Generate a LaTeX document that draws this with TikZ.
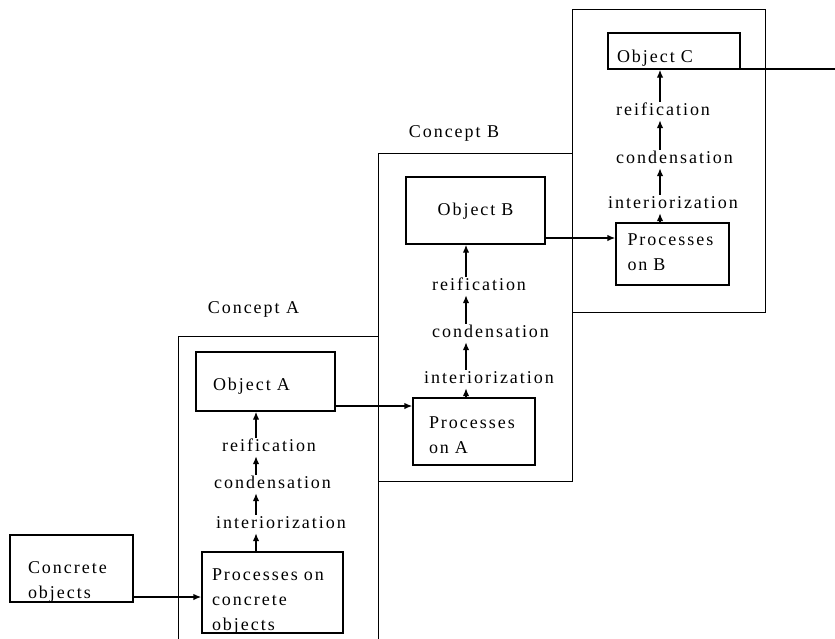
\documentclass[tikz,border=0pt]{standalone}
\usepackage{fontspec}
\setmainfont{Liberation Serif}[LetterSpace=11]
\usetikzlibrary{arrows.meta}
\begin{document}
\begin{tikzpicture}[x=1pt,y=-1pt,
  every node/.style={font=\fontsize{18}{25}\selectfont},
  box/.style={draw,line width=1.4pt,inner sep=0pt,align=left},
  frame/.style={draw,line width=1.4pt,inner sep=0pt,anchor=north west},
  lbl/.style={inner sep=1pt,text height=12pt,text depth=4pt,anchor=base west},
  arr/.style={line width=1.4pt,-{Latex[length=8pt,width=6.5pt]}},
  link/.style={line width=1.4pt}]
\clip (0,0) rectangle (835,638);

% concept frames
\node[frame,minimum width=200,minimum height=400] (frA) at (178,336) {};
\node[frame,minimum width=194,minimum height=328] (frB) at (378,153) {};
\node[frame,minimum width=193,minimum height=303] (frC) at (572,9) {};
\node[anchor=base] (capA) at (253.5,313) {Concept A};
\node[anchor=base] (capB) at (454,137) {Concept B};

% boxes: text height = distance from the top edge to the first baseline
\node[box,minimum width=123,text height=38,text depth=29,text width=87] (conc) at (71.5,568.5) {Concrete\\objects};
\node[box,minimum width=141,text height=28,text depth=53,text width=121] (pconc) at (272.5,592.5) {Processes on\\concrete\\objects};
\node[box,minimum width=139,text height=38,text depth=21,text width=105] (objA) at (265.5,381.5) {Object A};
\node[box,minimum width=122,text height=30,text depth=37,text width=90] (pA) at (474,431.5) {Processes\\on A};
\node[box,minimum width=139,text height=38,text depth=29,text width=81,align=center] (objB) at (475.5,210.5) {Object B};
\node[box,minimum width=113,text height=22,text depth=40,text width=90] (pB) at (672.5,254) {Processes\\on B};
\node[box,minimum width=132,text height=29,text depth=7,text width=114] (objC) at (674,51) {Object C};

% stage labels
\node[lbl] (iA) at (215,528) {interiorization};
\node[lbl] (cdA) at (213,488) {condensation};
\node[lbl] (rfA) at (221,451) {reification};
\node[lbl] (iB) at (423,383) {interiorization};
\node[lbl] (cdB) at (431,337) {condensation};
\node[lbl] (rfB) at (431,290) {reification};
\node[lbl] (iC) at (607,208) {interiorization};
\node[lbl] (cdC) at (615,163) {condensation};
\node[lbl] (rfC) at (615,115) {reification};

% columns of the vertical arrows
\coordinate (colA) at (256,0);
\coordinate (colB) at (466,0);
\coordinate (colC) at (660,0);

\draw[arr] (pconc.north -| colA) -- (iA.south -| colA);
\draw[arr] (iA.north -| colA) -- (cdA.south -| colA);
\draw[arr] (cdA.north -| colA) -- (rfA.south -| colA);
\draw[arr] (rfA.north -| colA) -- (objA.south -| colA);

\draw[arr] (pA.north -| colB) -- (iB.south -| colB);
\draw[arr] (iB.north -| colB) -- (cdB.south -| colB);
\draw[arr] (cdB.north -| colB) -- (rfB.south -| colB);
\draw[arr] (rfB.north -| colB) -- (objB.south -| colB);

\draw[arr] (pB.north -| colC) -- (iC.south -| colC);
\draw[arr] (iC.north -| colC) -- (cdC.south -| colC);
\draw[arr] (cdC.north -| colC) -- (rfC.south -| colC);
\draw[arr] (rfC.north -| colC) -- (objC.south -| colC);

% horizontal links between concepts
\coordinate (row0) at (0,597);
\coordinate (rowA) at (0,406);
\coordinate (rowB) at (0,238);
\coordinate (outC) at (835,69);
\draw[arr] (conc.east |- row0) -- (pconc.west |- row0);
\draw[arr] (objA.east |- rowA) -- (pA.west |- rowA);
\draw[arr] (objB.east |- rowB) -- (pB.west |- rowB);
\draw[link] (objC.east |- outC) -- (outC);
\end{tikzpicture}
\end{document}
